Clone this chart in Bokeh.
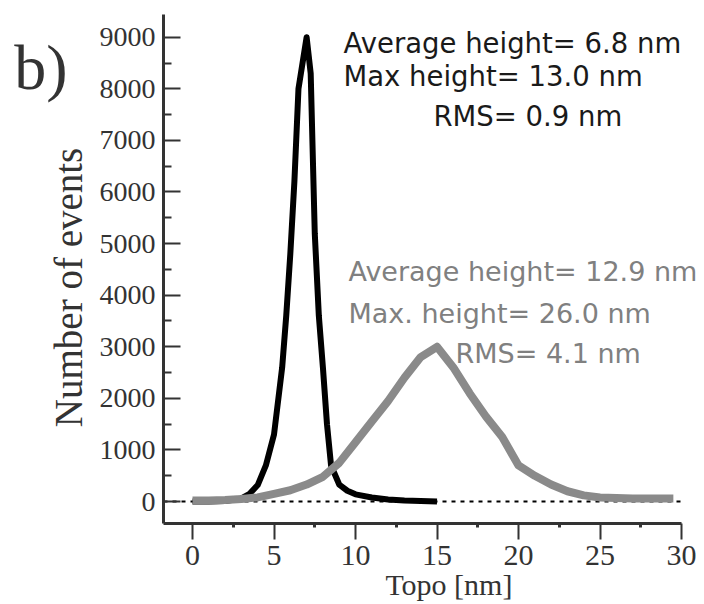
from bokeh.plotting import figure
from bokeh.models import Label, Range1d, FixedTicker, LinearAxis
from bokeh.embed import file_html
from bokeh.resources import INLINE

# ---- data ----
black_x = [0, 1, 2, 3, 3.5, 4, 4.5, 5, 5.5, 5.75, 6, 6.25, 6.5, 6.75, 7, 7.25, 7.5, 7.75,
           8, 8.25, 8.5, 9, 9.5, 10, 11, 12, 13, 14, 15]
black_y = [0, 0, 10, 60, 150, 320, 700, 1300, 2600, 3600, 4800, 6200, 8000, 8500, 9000, 8300,
           5200, 3600, 2600, 1500, 700, 330, 210, 140, 80, 40, 20, 10, 0]

gray_x = [0, 1, 2, 3, 4, 5, 6, 7, 8, 9, 10, 11, 12, 13, 14, 15, 16, 17, 18, 19, 20, 21, 22,
          23, 24, 25, 26, 27, 28, 29, 29.5]
gray_y = [20, 20, 30, 50, 80, 150, 220, 330, 480, 750, 1150, 1550, 1950, 2400, 2800, 3000,
          2600, 2100, 1650, 1250, 700, 500, 330, 200, 120, 80, 70, 60, 60, 60, 60]

x_ticks = [0, 5, 10, 15, 20, 25, 30]
y_ticks = [0, 1000, 2000, 3000, 4000, 5000, 6000, 7000, 8000, 9000]

black_stats = ["Average height= 6.8 nm", "Max height= 13.0 nm", "RMS= 0.9 nm"]
gray_stats = ["Average height= 12.9 nm", "Max. height= 26.0 nm", "RMS= 4.1 nm"]

BLACK = "#000000"
GRAY = "#8a8a8a"
AXIS = "#333333"
SERIF = "Liberation Serif"
SANS = "DejaVu Sans"

X0, X1 = -1.78, 31.41
p = figure(width=704, height=604, output_backend="svg", toolbar_location=None,
           x_range=Range1d(X0, X1), y_range=Range1d(-425, 9440),
           min_border_left=163, min_border_right=0, min_border_top=14, min_border_bottom=81)
p.outline_line_color = None
p.grid.visible = False
p.background_fill_color = "white"
p.border_fill_color = "white"

# dotted zero reference line, from the axis to the last x tick
p.segment(x0=[X0], y0=[0], x1=[x_ticks[-1]], y1=[0], line_color=BLACK, line_width=2,
          line_dash="4 5", level="underlay")

p.line(black_x, black_y, line_color=BLACK, line_width=6, line_join="round")
p.line(gray_x, gray_y, line_color=GRAY, line_width=8, line_join="round")

# x axis
xa = p.xaxis[0]
xa.bounds = (X0, x_ticks[-1])
xa.ticker = FixedTicker(ticks=x_ticks,
                        minor_ticks=[(a + b) / 2 for a, b in zip(x_ticks[:-1], x_ticks[1:])])
xa.axis_line_width = 3
xa.axis_line_color = AXIS
xa.major_tick_in = 0
xa.major_tick_out = 16
xa.major_tick_line_width = 2
xa.major_tick_line_color = AXIS
xa.minor_tick_in = 0
xa.minor_tick_out = 4
xa.minor_tick_line_width = 3
xa.minor_tick_line_color = AXIS
xa.major_label_text_font = SERIF
xa.major_label_text_font_size = "30px"
xa.major_label_text_color = AXIS
xa.major_label_standoff = 6

# y axis
ya = p.yaxis[0]
ya.ticker = FixedTicker(ticks=y_ticks,
                        minor_ticks=[(a + b) / 2 for a, b in zip(y_ticks[:-1], y_ticks[1:])])
ya.axis_line_width = 3
ya.axis_line_color = AXIS
ya.major_tick_in = 17
ya.major_tick_out = 0
ya.major_tick_line_width = 2
ya.major_tick_line_color = AXIS
ya.minor_tick_in = 8
ya.minor_tick_out = 0
ya.minor_tick_line_width = 2
ya.minor_tick_line_color = AXIS
ya.major_label_text_font = SERIF
ya.major_label_text_font_size = "28px"
ya.major_label_text_color = AXIS
ya.major_label_standoff = 8


def text_axis(pos, text, size, standoff, orientation="horizontal"):
    """An axis carrying a single label (used for off-centre axis titles)."""
    ax = LinearAxis(ticker=FixedTicker(ticks=[pos], minor_ticks=[]),
                    major_label_overrides={pos: text},
                    major_label_orientation=orientation,
                    axis_line_color=None, major_tick_line_color=None, minor_tick_line_color=None,
                    major_tick_in=0, major_tick_out=0, minor_tick_in=0, minor_tick_out=0,
                    major_label_standoff=standoff,
                    major_label_text_font=SERIF, major_label_text_font_size=size,
                    major_label_text_color=AXIS)
    return ax


p.add_layout(text_axis(4150, "Number of events", "39px", 6, "parallel"), "left")
p.add_layout(text_axis(8420, "b)", "64px", -23), "left")
p.add_layout(text_axis(15.73, "Topo [nm]", "30px", 0), "below")


# annotation text, positioned relative to the frame (frame left = 163, bottom = 523)
def add_text(text, page_x, page_baseline, color, size):
    p.add_layout(Label(x=page_x - 163, y=523 - page_baseline, x_units="screen", y_units="screen",
                       text=text, text_color=color, text_font=SANS, text_font_size=size,
                       text_baseline="alphabetic", text_align="left"))


for txt, px, py in zip(black_stats, [343, 343, 433], [42, 75, 115]):
    add_text(txt, px, py, "#1a1a1a", "27.5px")
for txt, px, py in zip(gray_stats, [348, 348, 455], [271, 313, 353]):
    add_text(txt, px, py, "#808080", "27px")

open("out.html", "w").write(file_html(p, INLINE))
